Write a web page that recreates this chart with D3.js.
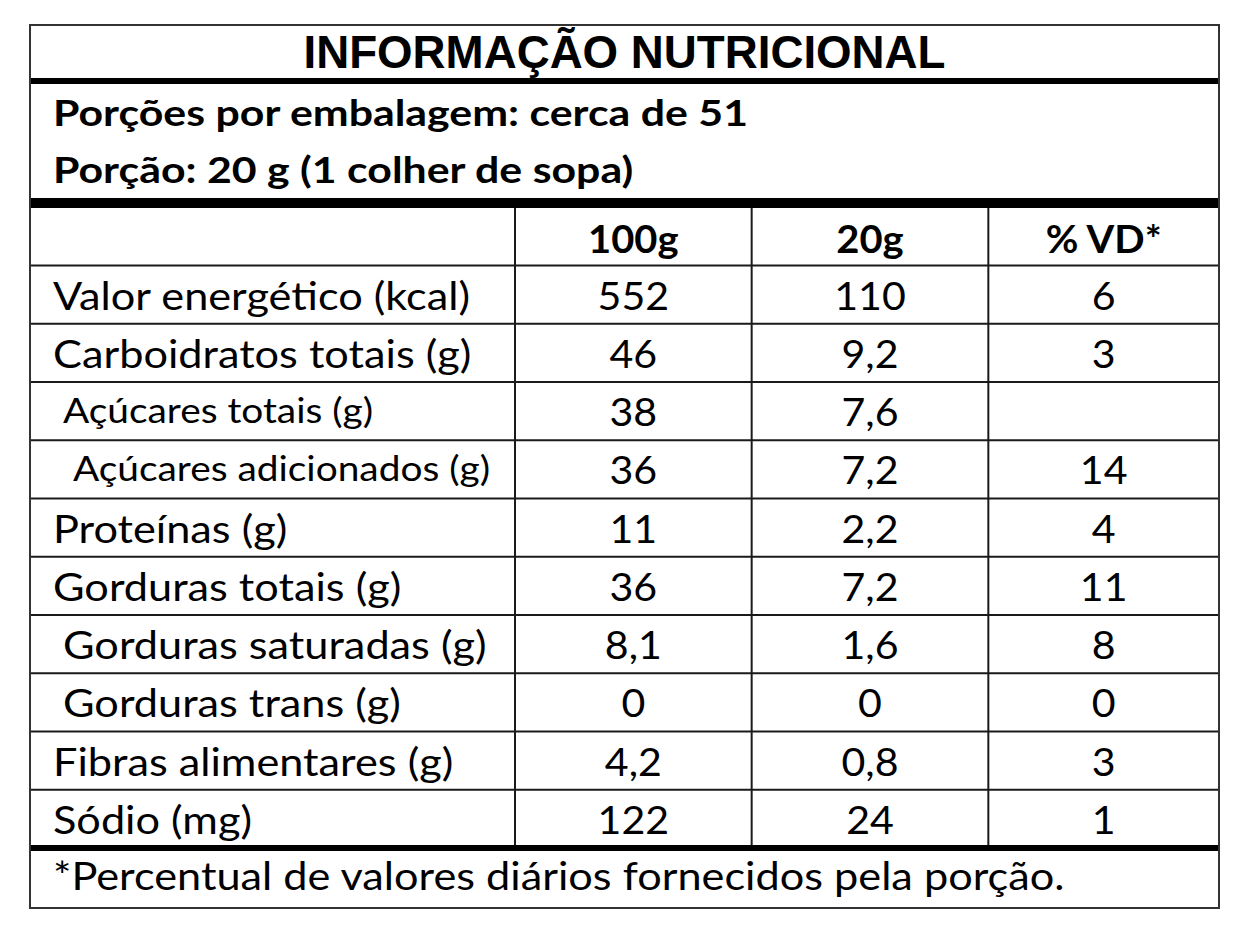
<!DOCTYPE html>
<html>
<head>
<meta charset="utf-8">
<script src="https://cdn.jsdelivr.net/npm/d3@7"></script>
<style>
  body { margin: 0; background: #fff; }
  text { fill: #000; }
</style>
</head>
<body>
<div id="chart"></div>
<script>
// data
const TITLE = 'INFORMAÇÃO NUTRICIONAL';
const servingLines = ['Porções por embalagem: cerca de 51', 'Porção: 20 g (1 colher de sopa)'];
const columns = ['100g', '20g', '% VD*'];
const nutrients = [
  'Valor energético (kcal)',
  'Carboidratos totais (g)',
  'Açúcares totais (g)',
  'Açúcares adicionados (g)',
  'Proteínas (g)',
  'Gorduras totais (g)',
  'Gorduras saturadas (g)',
  'Gorduras trans (g)',
  'Fibras alimentares (g)',
  'Sódio (mg)',
];
const subLevel = [0, 0, 1, 2, 0, 0, 1, 1, 0, 0];
const per100g = ['552', '46', '38', '36', '11', '36', '8,1', '0', '4,2', '122'];
const per20g = ['110', '9,2', '7,6', '7,2', '2,2', '7,2', '1,6', '0', '0,8', '24'];
const dailyValue = ['6', '3', '', '14', '4', '11', '8', '0', '3', '1'];
const FOOTNOTE = '*Percentual de valores diários fornecidos pela porção.';

// dimensions
const WIDTH = 1248;
const HEIGHT = 943;
const LEFT = 30;
const RIGHT = 1219;
const TOP = 25;
const BOTTOM = 908;
const HEADER_TOP = 208;
const ROWS_TOP = 265.5;
const ROWS_BOTTOM = 848;
const FIRST_COL = 515;
const TEXT_X = 53;
const INDENT = 10;
const LINE = '#1a1a1a';
const FONT = 'Lato, "Open Sans", sans-serif';
const TITLE_FONT = '"Liberation Sans Narrow", "Liberation Sans", Arial, sans-serif';

// the sugar sub-rows are set a little smaller in the label
const isSugarRow = (i) => i === 2 || i === 3;

function draw() {
  const $svg = d3.select('#chart').append('svg')
    .attr('width', WIDTH)
    .attr('height', HEIGHT);

  // scales
  const y = d3.scaleBand().domain(nutrients).range([ROWS_TOP, ROWS_BOTTOM]);
  const x = d3.scaleBand().domain(columns).range([FIRST_COL, 1225]);
  const colCenter = (c) => (x(c) + Math.min(x(c) + x.bandwidth(), RIGHT)) / 2;

  // condense humanist font toward the label's narrow face
  function measure(str, size, weight) {
    const t = $svg.append('text').attr('font-family', FONT)
      .attr('font-size', size).attr('font-weight', weight).text(str);
    const w = t.node().getComputedTextLength();
    t.remove();
    return w;
  }
  const regFactor = 417 / measure(nutrients[0], 39, 400);
  const boldFactor = 695 / measure(servingLines[0], 36, 700);
  function squeeze(sel, factor) {
    sel.each(function () {
      const w = this.getComputedTextLength();
      if (w > 0) d3.select(this).attr('textLength', w * factor).attr('lengthAdjust', 'spacingAndGlyphs');
    });
  }

  // grid lines
  const $grid = $svg.append('g').attr('class', 'g-grid');
  const rowEdges = [ROWS_TOP].concat(nutrients.slice(1).map((d) => y(d)));
  $grid.selectAll('.row-line')
    .data(rowEdges)
    .join('line')
    .attr('class', 'row-line')
    .attr('x1', LEFT).attr('x2', RIGHT)
    .attr('y1', (d) => d).attr('y2', (d) => d)
    .attr('stroke', LINE).attr('stroke-width', 2);

  $grid.selectAll('.col-line')
    .data(columns)
    .join('line')
    .attr('class', 'col-line')
    .attr('x1', (d) => x(d)).attr('x2', (d) => x(d))
    .attr('y1', HEADER_TOP).attr('y2', ROWS_BOTTOM)
    .attr('stroke', LINE).attr('stroke-width', 2);

  // heavy rules
  const rules = [
    { y: 81, w: 6 },
    { y: 203, w: 10 },
    { y: ROWS_BOTTOM, w: 6 },
  ];
  $grid.selectAll('.rule')
    .data(rules)
    .join('line')
    .attr('class', 'rule')
    .attr('x1', LEFT).attr('x2', RIGHT)
    .attr('y1', (d) => d.y).attr('y2', (d) => d.y)
    .attr('stroke', '#000').attr('stroke-width', (d) => d.w);

  $grid.append('rect')
    .attr('x', LEFT).attr('y', TOP)
    .attr('width', RIGHT - LEFT).attr('height', BOTTOM - TOP)
    .attr('fill', 'none').attr('stroke', '#333').attr('stroke-width', 2);

  // title
  $svg.append('text')
    .attr('x', (LEFT + RIGHT) / 2)
    .attr('y', 68)
    .attr('text-anchor', 'middle')
    .attr('font-family', TITLE_FONT)
    .attr('font-weight', 700)
    .attr('font-size', 46)
    .attr('textLength', 642)
    .attr('lengthAdjust', 'spacingAndGlyphs')
    .text(TITLE);

  // serving info
  $svg.selectAll('.serving')
    .data(servingLines)
    .join('text')
    .attr('class', 'serving')
    .attr('x', TEXT_X)
    .attr('y', (d, i) => 126 + i * 57)
    .attr('font-family', FONT)
    .attr('font-weight', 700)
    .attr('font-size', 36)
    .text((d) => d)
    .call(squeeze, boldFactor);

  // header
  $svg.selectAll('.col-head')
    .data(columns)
    .join('text')
    .attr('class', 'col-head')
    .attr('x', (d) => colCenter(d))
    .attr('y', ROWS_TOP - 12.5)
    .attr('text-anchor', 'middle')
    .attr('font-family', FONT)
    .attr('font-weight', 700)
    .attr('font-size', 39)
    .text((d) => d)
    .call(squeeze, boldFactor * 0.86);

  // nutrient labels
  const baseline = (d) => y(d) + 44;
  $svg.selectAll('.label')
    .data(nutrients)
    .join('text')
    .attr('class', 'label')
    .attr('x', (d, i) => TEXT_X + subLevel[i] * INDENT)
    .attr('y', (d, i) => (isSugarRow(i) ? y(d) + 41 : baseline(d)))
    .attr('font-family', FONT)
    .attr('font-size', (d, i) => (isSugarRow(i) ? 35 : 39))
    .text((d) => d)
    .call(squeeze, regFactor);

  // values
  const valueCols = [per100g, per20g, dailyValue];
  const cells = [];
  nutrients.forEach((n, i) => {
    columns.forEach((c, j) => cells.push({ row: n, col: c, value: valueCols[j][i] }));
  });
  $svg.selectAll('.value')
    .data(cells)
    .join('text')
    .attr('class', 'value')
    .attr('x', (d) => colCenter(d.col))
    .attr('y', (d) => baseline(d.row))
    .attr('text-anchor', 'middle')
    .attr('font-family', FONT)
    .attr('font-size', 39)
    .text((d) => d.value)
    .call(squeeze, regFactor * 0.95);

  // footnote
  $svg.append('text')
    .attr('x', TEXT_X)
    .attr('y', 890)
    .attr('font-family', FONT)
    .attr('font-size', 39)
    .text(FOOTNOTE)
    .call(squeeze, regFactor);
}

document.fonts.ready.then(draw);
</script>
</body>
</html>
